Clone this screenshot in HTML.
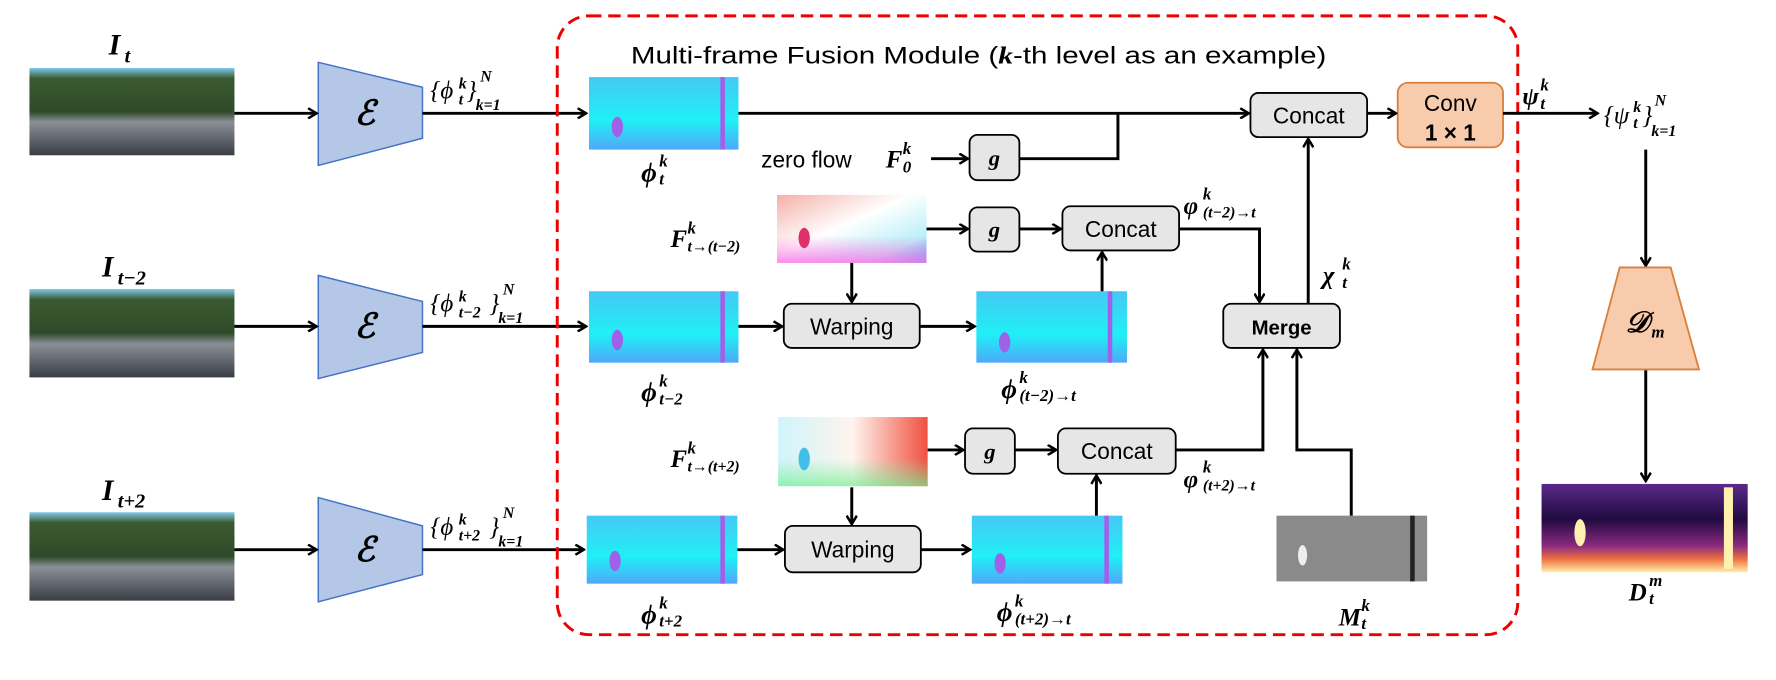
<!DOCTYPE html>
<html><head><meta charset="utf-8"><style>
html,body{margin:0;padding:0;background:#fff;}
svg{display:block}
.m{font-family:"Liberation Serif",serif;font-style:italic;font-weight:bold;fill:#000}
.s{font-family:"Liberation Sans",sans-serif;fill:#000}
.ln{stroke:#000;stroke-width:2.6;fill:none}
.bx{fill:#e6e6e6;stroke:#000;stroke-width:1.6}
</style></head><body>
<svg width="1776" height="680" viewBox="0 0 1568 600" preserveAspectRatio="none" xmlns="http://www.w3.org/2000/svg">
<defs>
<marker id="a" markerWidth="10" markerHeight="10" refX="8" refY="5" orient="auto" markerUnits="userSpaceOnUse">
<polyline points="1,0.5 8.5,5 1,9.5" fill="none" stroke="#000" stroke-width="2.2"/></marker>
<linearGradient id="photo" x1="0" y1="0" x2="0" y2="1">
<stop offset="0" stop-color="#7fc8ea"/><stop offset="0.12" stop-color="#3a5a30"/><stop offset="0.5" stop-color="#2f4a2a"/><stop offset="0.62" stop-color="#8a8f96"/><stop offset="1" stop-color="#3a3d44"/></linearGradient>
<linearGradient id="feat" x1="0" y1="0" x2="0" y2="1">
<stop offset="0" stop-color="#45c8f5"/><stop offset="0.6" stop-color="#1ff0f5"/><stop offset="1" stop-color="#4fa8f8"/></linearGradient>
<linearGradient id="fl1" x1="0" y1="0" x2="1" y2="1">
<stop offset="0" stop-color="#f5b0a8"/><stop offset="0.45" stop-color="#fff"/><stop offset="0.8" stop-color="#b8f0f8"/><stop offset="1" stop-color="#3aa8f0"/></linearGradient>
<linearGradient id="fl1b" x1="0" y1="0" x2="0" y2="1">
<stop offset="0.6" stop-color="#ff80e0" stop-opacity="0"/><stop offset="1" stop-color="#ff70e8" stop-opacity="0.8"/></linearGradient>
<linearGradient id="fl2" x1="0" y1="0" x2="1" y2="0">
<stop offset="0" stop-color="#d0f4fa"/><stop offset="0.5" stop-color="#fff4ee"/><stop offset="1" stop-color="#f05040"/></linearGradient>
<linearGradient id="fl2b" x1="0" y1="0" x2="0" y2="1">
<stop offset="0.6" stop-color="#80f0a0" stop-opacity="0"/><stop offset="1" stop-color="#70f090" stop-opacity="0.7"/></linearGradient>
<linearGradient id="dep" x1="0" y1="0" x2="0" y2="1">
<stop offset="0" stop-color="#5a2a8a"/><stop offset="0.4" stop-color="#200a40"/><stop offset="0.7" stop-color="#8a2a80"/><stop offset="0.85" stop-color="#f07040"/><stop offset="1" stop-color="#fff0b0"/></linearGradient>
</defs>

<rect x="26" y="60" width="181" height="77" fill="url(#photo)"/>
<rect x="26" y="255" width="181" height="78" fill="url(#photo)"/>
<rect x="26" y="452" width="181" height="78" fill="url(#photo)"/>
<text class="m" x="96" y="48" font-size="26">I</text><text class="m" x="110" y="55" font-size="18">t</text>
<text class="m" x="90" y="244" font-size="26">I</text><text class="m" x="104" y="251" font-size="18">t−2</text>
<text class="m" x="90" y="441" font-size="26">I</text><text class="m" x="104" y="448" font-size="18">t+2</text>

<g fill="#b4c7e7" stroke="#4472c4" stroke-width="1.3">
<polygon points="281,55 373,77 373,122 281,146"/>
<polygon points="281,243 373,266 373,311 281,334"/>
<polygon points="281,439 373,464 373,507 281,531"/>
</g>
<text class="m" x="313" y="110" font-size="30">ℰ</text>
<text class="m" x="313" y="298" font-size="30">ℰ</text>
<text class="m" x="313" y="495" font-size="30">ℰ</text>

<line class="ln" x1="207" y1="100" x2="279" y2="100" marker-end="url(#a)"/>
<line class="ln" x1="207" y1="288" x2="279" y2="288" marker-end="url(#a)"/>
<line class="ln" x1="207" y1="485" x2="279" y2="485" marker-end="url(#a)"/>
<line class="ln" x1="373" y1="100" x2="517" y2="100" marker-end="url(#a)"/>
<line class="ln" x1="373" y1="288" x2="517" y2="288" marker-end="url(#a)"/>
<line class="ln" x1="373" y1="485" x2="515" y2="485" marker-end="url(#a)"/>

<g class="m">
<text x="380" y="87" font-size="22" font-weight="normal">{ϕ</text><text x="405" y="78" font-size="14">k</text><text x="405" y="92" font-size="14">t</text><text x="412" y="87" font-size="22" font-weight="normal">}</text><text x="424" y="72" font-size="14">N</text><text x="420" y="97" font-size="14">k=1</text>
<text x="380" y="275" font-size="22" font-weight="normal">{ϕ</text><text x="405" y="266" font-size="14">k</text><text x="405" y="280" font-size="14">t−2</text><text x="432" y="275" font-size="22" font-weight="normal">}</text><text x="444" y="260" font-size="14">N</text><text x="440" y="285" font-size="14">k=1</text>
<text x="380" y="472" font-size="22" font-weight="normal">{ϕ</text><text x="405" y="463" font-size="14">k</text><text x="405" y="477" font-size="14">t+2</text><text x="432" y="472" font-size="22" font-weight="normal">}</text><text x="444" y="457" font-size="14">N</text><text x="440" y="482" font-size="14">k=1</text>
</g>

<rect x="492" y="14" width="848" height="546" rx="28" fill="none" stroke="#e00" stroke-width="2.6" stroke-dasharray="11,6"/>
<text class="s" x="557" y="56" font-size="21" textLength="614" lengthAdjust="spacingAndGlyphs">Multi-frame Fusion Module (<tspan font-family="Liberation Serif" font-style="italic" font-weight="bold">k</tspan>-th level as an example)</text>

<rect x="520" y="68" width="132" height="64" fill="url(#feat)"/>
<rect x="520" y="257" width="132" height="63" fill="url(#feat)"/>
<rect x="518" y="455" width="133" height="60" fill="url(#feat)"/>
<rect x="862" y="257" width="133" height="63" fill="url(#feat)"/>
<rect x="858" y="455" width="133" height="60" fill="url(#feat)"/>
<g fill="#a060e8">
<rect x="636" y="68" width="4" height="64"/><rect x="636" y="257" width="4" height="63"/><rect x="636" y="455" width="4" height="60"/>
<rect x="978" y="257" width="4" height="63"/><rect x="975" y="455" width="4" height="60"/>
<ellipse cx="545" cy="112" rx="5" ry="9"/><ellipse cx="545" cy="300" rx="5" ry="9"/><ellipse cx="543" cy="495" rx="5" ry="9"/>
<ellipse cx="887" cy="302" rx="5" ry="9"/><ellipse cx="883" cy="497" rx="5" ry="9"/>
</g>
<rect x="686" y="172" width="132" height="60" fill="url(#fl1)"/>
<rect x="686" y="172" width="132" height="60" fill="url(#fl1b)"/>
<ellipse cx="710" cy="210" rx="5" ry="9" fill="#e0306a"/>
<rect x="687" y="368" width="132" height="61" fill="url(#fl2)"/>
<rect x="687" y="368" width="132" height="61" fill="url(#fl2b)"/>
<ellipse cx="710" cy="405" rx="5" ry="10" fill="#40c0e8"/>
<rect x="1127" y="455" width="133" height="58" fill="#8a8a8a"/>
<rect x="1245" y="455" width="4" height="58" fill="#222"/>
<ellipse cx="1150" cy="490" rx="4" ry="9" fill="#eee"/>
<rect x="1361" y="427" width="182" height="78" fill="url(#dep)"/>
<rect x="1522" y="430" width="8" height="72" fill="#fff0b0"/>
<ellipse cx="1395" cy="470" rx="5" ry="12" fill="#fff0b0"/>

<rect class="bx" x="1104" y="82" width="103" height="39" rx="7"/><text class="s" x="1155.5" y="109" font-size="20" text-anchor="middle">Concat</text>
<rect x="1234" y="73" width="93" height="57" rx="9" fill="#f8cbad" stroke="#d9803a" stroke-width="1.6"/>
<text class="s" x="1280.5" y="98" font-size="20" text-anchor="middle">Conv</text>
<text class="s" x="1280.5" y="124" font-size="20" text-anchor="middle" font-weight="bold">1 × 1</text>
<rect class="bx" x="856" y="119" width="44" height="40" rx="7"/><text class="m" x="878" y="146" font-size="20" text-anchor="middle">g</text>
<rect class="bx" x="856" y="183" width="44" height="39" rx="7"/><text class="m" x="878" y="209" font-size="20" text-anchor="middle">g</text>
<rect class="bx" x="938" y="182" width="103" height="39" rx="7"/><text class="s" x="989.5" y="209" font-size="20" text-anchor="middle">Concat</text>
<rect class="bx" x="1080" y="268" width="103" height="39" rx="7"/><text class="s" x="1131.5" y="295" font-size="18" font-weight="bold" text-anchor="middle">Merge</text>
<rect class="bx" x="692" y="268" width="120" height="39" rx="7"/><text class="s" x="752" y="295" font-size="20" text-anchor="middle">Warping</text>
<rect class="bx" x="693" y="464" width="120" height="41" rx="7"/><text class="s" x="753" y="492" font-size="20" text-anchor="middle">Warping</text>
<rect class="bx" x="852" y="378" width="44" height="40" rx="7"/><text class="m" x="874" y="405" font-size="20" text-anchor="middle">g</text>
<rect class="bx" x="934" y="378" width="104" height="40" rx="7"/><text class="s" x="986" y="405" font-size="20" text-anchor="middle">Concat</text>

<line class="ln" x1="652" y1="100" x2="1102" y2="100" marker-end="url(#a)"/>
<polyline class="ln" points="900,140 987,140 987,100"/>
<line class="ln" x1="822" y1="140" x2="854" y2="140" marker-end="url(#a)"/>
<line class="ln" x1="1207" y1="100" x2="1232" y2="100" marker-end="url(#a)"/>
<line class="ln" x1="1327" y1="100" x2="1410" y2="100" marker-end="url(#a)"/>
<line class="ln" x1="818" y1="202" x2="854" y2="202" marker-end="url(#a)"/>
<line class="ln" x1="900" y1="202" x2="936" y2="202" marker-end="url(#a)"/>
<polyline class="ln" points="1041,202 1112,202 1112,266" marker-end="url(#a)"/>
<line class="ln" x1="752" y1="232" x2="752" y2="266" marker-end="url(#a)"/>
<line class="ln" x1="652" y1="288" x2="690" y2="288" marker-end="url(#a)"/>
<line class="ln" x1="812" y1="288" x2="860" y2="288" marker-end="url(#a)"/>
<line class="ln" x1="973" y1="257" x2="973" y2="223" marker-end="url(#a)"/>
<line class="ln" x1="1155" y1="268" x2="1155" y2="123" marker-end="url(#a)"/>
<line class="ln" x1="819" y1="397" x2="850" y2="397" marker-end="url(#a)"/>
<line class="ln" x1="896" y1="397" x2="932" y2="397" marker-end="url(#a)"/>
<polyline class="ln" points="1038,397 1115,397 1115,309" marker-end="url(#a)"/>
<polyline class="ln" points="1193,455 1193,397 1145,397 1145,309" marker-end="url(#a)"/>
<line class="ln" x1="752" y1="430" x2="752" y2="462" marker-end="url(#a)"/>
<line class="ln" x1="651" y1="485" x2="691" y2="485" marker-end="url(#a)"/>
<line class="ln" x1="813" y1="485" x2="856" y2="485" marker-end="url(#a)"/>
<line class="ln" x1="968" y1="455" x2="968" y2="420" marker-end="url(#a)"/>
<line class="ln" x1="1453" y1="132" x2="1453" y2="234" marker-end="url(#a)" stroke-width="2"/>
<line class="ln" x1="1453" y1="326" x2="1453" y2="424" marker-end="url(#a)" stroke-width="2"/>

<polygon points="1430,236 1475,236 1500,326 1406,326" fill="#f8cbad" stroke="#d9803a" stroke-width="1.6"/>
<text class="m" x="1435" y="293" font-size="26">𝒟</text><text class="m" x="1458" y="298" font-size="15">m</text>

<g class="m">
<text x="566" y="160" font-size="24">ϕ</text><text x="582" y="147" font-size="15">k</text><text x="582" y="163" font-size="15">t</text>
<text x="566" y="354" font-size="24">ϕ</text><text x="582" y="341" font-size="15">k</text><text x="582" y="357" font-size="15">t−2</text>
<text x="566" y="550" font-size="24">ϕ</text><text x="582" y="537" font-size="15">k</text><text x="582" y="553" font-size="15">t+2</text>
<text x="884" y="351" font-size="24">ϕ</text><text x="900" y="338" font-size="15">k</text><text x="900" y="354" font-size="15">(t−2)→t</text>
<text x="880" y="548" font-size="24">ϕ</text><text x="896" y="535" font-size="15">k</text><text x="896" y="551" font-size="15">(t+2)→t</text>
<text x="592" y="218" font-size="22">F</text><text x="607" y="206" font-size="15">k</text><text x="607" y="222" font-size="14">t→(t−2)</text>
<text x="592" y="412" font-size="22">F</text><text x="607" y="400" font-size="15">k</text><text x="607" y="416" font-size="14">t→(t+2)</text>
<text x="1045" y="189" font-size="22">φ</text><text x="1062" y="176" font-size="15">k</text><text x="1062" y="192" font-size="14">(t−2)→t</text>
<text x="1045" y="430" font-size="22">φ</text><text x="1062" y="417" font-size="15">k</text><text x="1062" y="433" font-size="14">(t+2)→t</text>
<text x="1168" y="250" font-size="22">χ</text><text x="1185" y="238" font-size="15">k</text><text x="1185" y="254" font-size="15">t</text>
<text x="1182" y="552" font-size="22">M</text><text x="1202" y="539" font-size="15">k</text><text x="1202" y="555" font-size="15">t</text>
<text x="1438" y="530" font-size="22">D</text><text x="1456" y="517" font-size="15">m</text><text x="1456" y="533" font-size="15">t</text>
<text x="1344" y="92" font-size="22">ψ</text><text x="1360" y="80" font-size="15">k</text><text x="1360" y="96" font-size="15">t</text>
<text x="1416" y="109" font-size="22" font-weight="normal">{ψ</text><text x="1442" y="99" font-size="14">k</text><text x="1442" y="113" font-size="14">t</text><text x="1450" y="109" font-size="22" font-weight="normal">}</text><text x="1461" y="93" font-size="14">N</text><text x="1458" y="120" font-size="14">k=1</text>
</g>
<text x="672" y="148" font-size="20" class="s">zero flow</text>
<text class="m" x="782" y="148" font-size="22">F</text>
<text class="m" x="797" y="136" font-size="15">k</text><text class="m" x="797" y="152" font-size="15">0</text>
</svg>
</body></html>
